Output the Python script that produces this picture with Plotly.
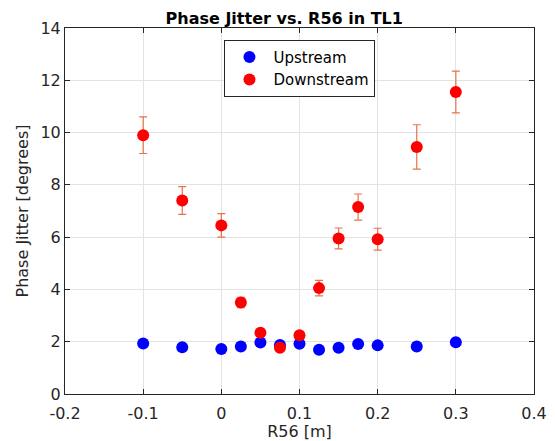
import plotly.graph_objects as go

r56 = [-0.1, -0.05, 0.0, 0.025, 0.05, 0.075, 0.1, 0.125, 0.15, 0.175, 0.2, 0.25, 0.3]
upstream = [1.93, 1.79, 1.72, 1.82, 1.97, 1.87, 1.92, 1.69, 1.77, 1.91, 1.86, 1.82, 1.98]
downstream = [9.9, 7.4, 6.45, 3.5, 2.34, 1.77, 2.25, 4.05, 5.95, 7.15, 5.92, 9.45, 11.55]
downstream_err = [0.7, 0.53, 0.45, 0.2, 0.08, 0.06, 0.07, 0.3, 0.4, 0.5, 0.42, 0.85, 0.8]

font = "DejaVu Sans"
txt = "#262626"

fig = go.Figure()
fig.add_trace(go.Scatter(
    x=r56, y=upstream, mode="markers", name="Upstream",
    marker=dict(color="#0000FF", size=12, line=dict(width=0)),
))
fig.add_trace(go.Scatter(
    x=r56, y=downstream, mode="markers", name="Downstream",
    marker=dict(color="#FF0000", size=12, line=dict(width=0)),
    error_y=dict(type="data", array=downstream_err, visible=True,
                 color="#E5734A", thickness=1.2, width=4),
))

axis_common = dict(
    showgrid=True, gridcolor="#e3e3e3", gridwidth=1,
    showline=True, linecolor="#262626", linewidth=1, mirror="allticks",
    ticks="inside", ticklen=5, tickcolor="#262626",
    zeroline=False, automargin=False,
    tickfont=dict(family=font, size=16, color=txt),
    title_font=dict(family=font, size=16, color=txt),
)

# page body has an 8px margin: figure is 547x433 placed at (8, 8)
fig.update_layout(
    width=547, height=433,
    margin=dict(l=56.7, r=21, t=20, b=46.7),
    paper_bgcolor="white", plot_bgcolor="white",
    title=dict(text="<b>Phase Jitter vs. R56 in TL1</b>", x=0.505, xanchor="center",
               y=0.977, yanchor="middle", automargin=False,
               font=dict(family=font, size=16, color="black")),
    xaxis=dict(range=[-0.2, 0.4], tickvals=[-0.2, -0.1, 0, 0.1, 0.2, 0.3, 0.4],
               ticktext=["-0.2", "-0.1", "0", "0.1", "0.2", "0.3", "0.4"],
               ticklabelstandoff=5,
               title=dict(text="R56 [m]", standoff=1), **axis_common),
    yaxis=dict(range=[0, 14], tickvals=[0, 2, 4, 6, 8, 10, 12, 14],
               title=dict(text="Phase Jitter [degrees]", standoff=7), **axis_common),
    legend=dict(x=0.34, y=0.968, xanchor="left", yanchor="top",
                bgcolor="white", bordercolor="#262626", borderwidth=1,
                font=dict(family=font, size=15, color="black"),
                itemsizing="constant", itemwidth=38, tracegroupgap=0),
    showlegend=True,
)

fig.write_html("out.html")
